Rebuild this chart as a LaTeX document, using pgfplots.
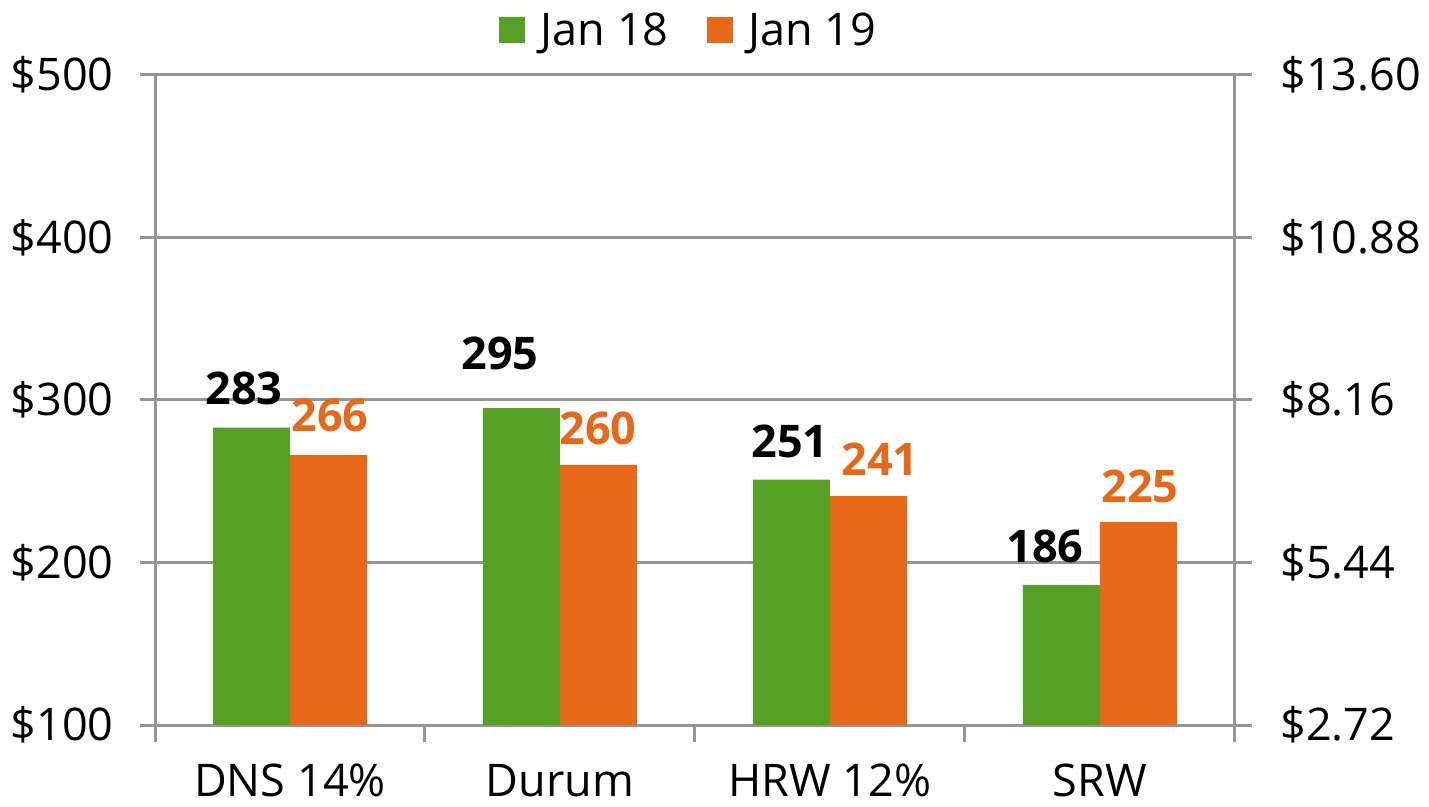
\documentclass[border=0pt]{standalone}
\usepackage{pgfplots}
\pgfplotsset{compat=1.18}
\usepackage{fontspec}
\setmainfont{Open Sans}
\definecolor{cgreen}{HTML}{56A124}
\definecolor{corange}{HTML}{E8681A}
\definecolor{cgrid}{HTML}{969696}
\newcommand\bigf{\fontsize{45}{54}\selectfont}
\begin{document}
\begin{tikzpicture}
\useasboundingbox (0,0) rectangle (1429pt,806pt);
\begin{axis}[
  at={(155pt,81pt)}, anchor=south west,
  scale only axis, width=1080pt, height=650pt,
  xmin=-0.5, xmax=3.5, ymin=100, ymax=500,
  axis x line*=bottom, axis y line*=left,
  axis line style={cgrid, line width=3pt},
  xtick={0,1,2,3},
  xticklabels={DNS 14\%, Durum, HRW 12\%, SRW},
  minor xtick={-0.5,0.5,1.5,2.5,3.5},
  major x tick style={draw=none},
  minor x tick style={cgrid, line width=3pt},
  ytick={100,200,300,400,500},
  y tick style={cgrid, line width=3pt},
  tick align=outside,
  major tick length=15pt, minor tick length=17pt,
  ymajorgrids, grid style={cgrid, line width=3pt},
  /pgf/number format/assume math mode=true,
  yticklabel={\$\pgfmathprintnumber{\tick}},
  tick label style={font=\bigf},
  xticklabel style={inner sep=0pt, yshift=-24pt},
  yticklabel style={xshift=-23pt},
  legend columns=2,
  legend style={draw=none, fill=none, font=\bigf, at={(0.494,1.069)}, anchor=center,
    /tikz/every even column/.append style={column sep=36pt}},
  clip=false,
]
\addplot[ybar, bar width=77pt, bar shift=-38.5pt, fill=cgreen, draw=none,
  legend image code/.code={\fill[cgreen] (0pt,-13pt) rectangle (26pt,13pt); \path (40pt,0pt);}]
  coordinates {(0,283) (1,295) (2,251) (3,186)};
\addlegendentry{Jan 18}
\addplot[ybar, bar width=77pt, bar shift=38.5pt, fill=corange, draw=none,
  legend image code/.code={\fill[corange] (0pt,-13pt) rectangle (26pt,13pt); \path (40pt,0pt);}]
  coordinates {(0,266) (1,260) (2,241) (3,225)};
\addlegendentry{Jan 19}
\addplot[draw=none, mark=none, forget plot, nodes near coords,
  point meta=explicit symbolic,
  every node near coord/.style={font=\bigf\bfseries, text=black, anchor=center, inner sep=0pt}]
  table[meta=lab] {
x y lab
-0.170 307.4 283
0.778 328.9 295
1.852 274.8 251
2.796 210.1 186
};
\addplot[draw=none, mark=none, forget plot, nodes near coords,
  point meta=explicit symbolic,
  every node near coord/.style={font=\bigf\bfseries, text=corange, anchor=center, inner sep=0pt}]
  table[meta=lab] {
x y lab
0.148 290.2 266
1.141 282.8 260
2.185 263.7 241
3.148 247.1 225
};
\end{axis}
\begin{axis}[
  at={(155pt,81pt)}, anchor=south west,
  scale only axis, width=1080pt, height=650pt,
  xmin=-0.5, xmax=3.5, ymin=2.72, ymax=13.60,
  axis x line=none, axis y line*=right,
  axis line style={cgrid, line width=3pt},
  ytick={2.72,5.44,8.16,10.88,13.60},
  y tick style={cgrid, line width=3pt},
  tick align=outside, major tick length=17pt,
  /pgf/number format/assume math mode=true,
  yticklabel={\$\pgfmathprintnumber[fixed, fixed zerofill, precision=2]{\tick}},
  tick label style={font=\bigf},
  yticklabel style={xshift=25pt},
]
\addplot[draw=none] coordinates {(0,5)};
\end{axis}
\end{tikzpicture}
\end{document}
